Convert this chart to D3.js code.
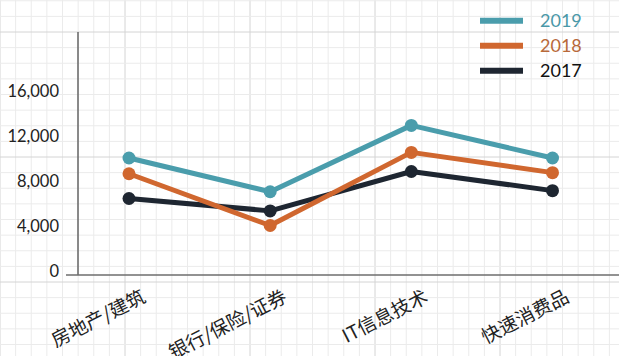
<!DOCTYPE html>
<html><head><meta charset="utf-8">
<script src="https://cdn.jsdelivr.net/npm/d3@7"></script>
<style>
html,body{margin:0;padding:0;background:#fff;}
svg{display:block;}
.num{font-family:Lato,"Noto Sans",sans-serif;}
.cat{font-family:"Noto Sans CJK SC","Noto Sans",sans-serif;}
</style>
</head><body>
<svg id="c" width="619" height="356"></svg>
<script>
const categories = ["房地产/建筑", "银行/保险/证券", "IT信息技术", "快速消费品"];
const seriesNames = ["2017", "2018", "2019"];
const values2017 = [6400, 5300, 8800, 7100];
const values2018 = [8600, 4000, 10500, 8700];
const values2019 = [10000, 7000, 12900, 10000];
const seriesColors = ["#1e2631", "#d0672f", "#4a9dac"];
const legendTextColors = ["#111111", "#b8693a", "#4a98a8"];
const yTicks = [0, 4000, 8000, 12000, 16000];

const W = 619, H = 356;
const svg = d3.select("#c");

// graph-paper background
const g0 = svg.append("g");
const minor = 15.625;
for (let i = 0; i * minor <= W + 1; i++) {
  const x = i * minor;
  g0.append("line").attr("x1", x).attr("x2", x).attr("y1", 0).attr("y2", H)
    .attr("stroke", i % 8 === 0 ? "#d4d4d4" : "#ebebeb").attr("stroke-width", 1);
}
for (let i = 0; 0.75 + i * minor <= H + 1; i++) {
  const y = 0.75 + i * minor;
  g0.append("line").attr("x1", 0).attr("x2", W).attr("y1", y).attr("y2", y)
    .attr("stroke", i % 8 === 2 ? "#d4d4d4" : "#ebebeb").attr("stroke-width", 1);
}

const x = d3.scalePoint().domain(categories).range([129, 552.5]);
const y = d3.scaleLinear().domain([0, 16000]).range([270.5, 90.5]);

// axes lines
svg.append("line").attr("x1", 78).attr("x2", 78).attr("y1", 32).attr("y2", 275)
  .attr("stroke", "#6e6e6e").attr("stroke-width", 1.6);
svg.append("line").attr("x1", 66).attr("x2", W).attr("y1", 275).attr("y2", 275)
  .attr("stroke", "#6e6e6e").attr("stroke-width", 1.6);

// y tick labels
const fmt = d3.format(",");
svg.append("g").selectAll("text").data(yTicks).join("text")
  .attr("class", "num")
  .attr("x", 59).attr("y", d => y(d) + 6)
  .attr("text-anchor", "end")
  .attr("font-size", 16.5).attr("fill", "#222")
  .text(d => fmt(d));

// category labels
svg.append("g").selectAll("text").data(categories).join("text")
  .attr("class", "cat")
  .attr("text-anchor", "end")
  .attr("font-size", 19).attr("fill", "#222")
  .attr("transform", d => `translate(${x(d) + 18},${301}) rotate(-27)`)
  .text(d => d);

// series
const allValues = [values2017, values2018, values2019];
const line = d3.line().x((d, i) => x(categories[i])).y(d => y(d));
allValues.forEach((vals, s) => {
  const g = svg.append("g");
  g.append("path").datum(vals).attr("d", line)
    .attr("fill", "none").attr("stroke", seriesColors[s])
    .attr("stroke-width", 5).attr("stroke-linejoin", "round").attr("stroke-linecap", "round");
  g.selectAll("circle").data(vals).join("circle")
    .attr("cx", (d, i) => x(categories[i])).attr("cy", d => y(d))
    .attr("r", 6.5).attr("fill", seriesColors[s]);
});

// legend (2019, 2018, 2017 top to bottom)
const legendOrder = [2, 1, 0];
const lg = svg.append("g");
legendOrder.forEach((s, k) => {
  const ly = 20.7 + k * 25;
  lg.append("line").attr("x1", 480).attr("x2", 523).attr("y1", ly).attr("y2", ly)
    .attr("stroke", seriesColors[s]).attr("stroke-width", 6);
  lg.append("text").attr("class", "num")
    .attr("x", 540).attr("y", ly + 6.5)
    .attr("font-size", 18).attr("fill", legendTextColors[s])
    .text(seriesNames[s]);
});
</script>
</body></html>
